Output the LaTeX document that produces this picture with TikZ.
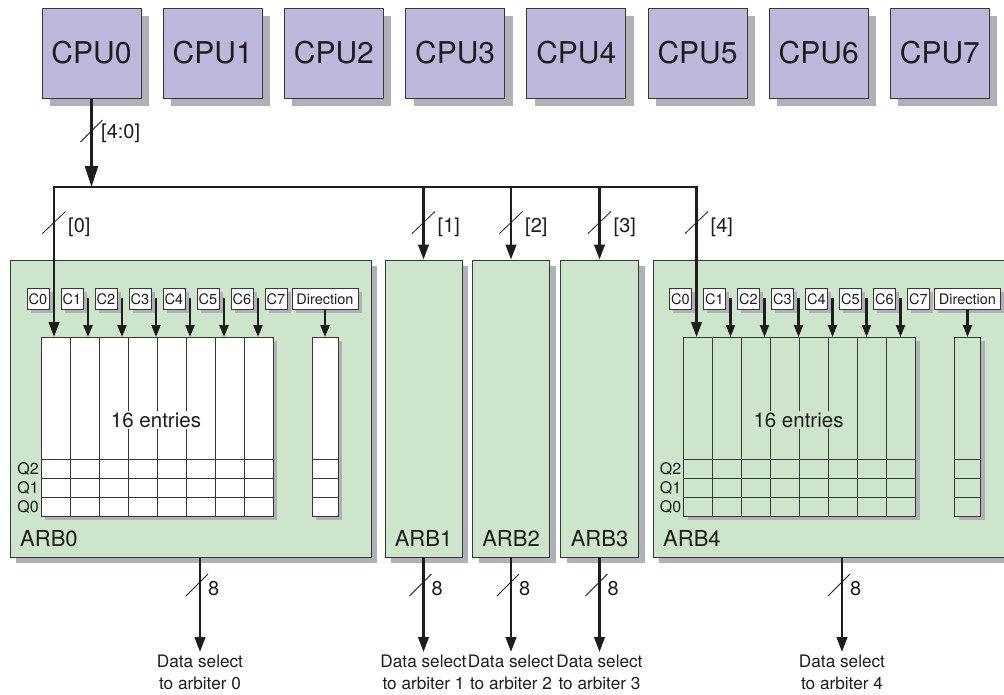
\documentclass[tikz,border=0pt]{standalone}
\usepackage{fontspec}
\setmainfont{TeX Gyre Heros}
\usetikzlibrary{arrows.meta,shadows}
\definecolor{cpufill}{RGB}{187,184,219}
\definecolor{arbfill}{RGB}{205,229,203}
\definecolor{shadowgray}{RGB}{176,177,184}
\definecolor{edge}{RGB}{55,55,55}
\definecolor{ink}{RGB}{30,28,28}

\newcommand\arbinside[2]{%
  \foreach \i in {0,...,7} {
    \node[cbox] (c#2\i) at ({38+34*\i},299) {C\i};
  }
  \node[cbox, minimum width=66pt] (dir#2) at (325,299) {Direction};
  \fill[shadowgray] (45,341) rectangle (277,520);
  \fill[shadowgray] (316,341) rectangle (342,520);
  \filldraw[fill=#1, draw=edge, line width=0.9pt] (41,337) rectangle (273,516);
  \filldraw[fill=#1, draw=edge, line width=0.9pt] (312,337) rectangle (338,516);
  \foreach \k in {1,...,7} {
    \draw[gridline] ({41+29*\k},337) -- ({41+29*\k},516);
  }
  \foreach \yy in {459,478,497} {
    \draw[gridline] (41,\yy) -- (273,\yy);
    \draw[gridline] (312,\yy) -- (338,\yy);
  }
  \node[entries, fill=#1] (ent#2) at (156,420) {16 entries};
  \node[qlabel] (q2#2) at (39,469) {Q2};
  \node[qlabel] (q1#2) at (39,488) {Q1};
  \node[qlabel] (q0#2) at (39,506.5) {Q0};
  \foreach \k in {1,...,6} {
    \coordinate (s#2\k) at ({54+34*\k},298);
    \coordinate (g#2\k) at ({54+34*\k},337);
    \draw[carrow] (s#2\k) -- (g#2\k);
  }
  \coordinate (dt#2) at (325,337);
  \draw[carrow] (dir#2.south) -- (dt#2);
}

\begin{document}
\begin{tikzpicture}[x=1pt,y=-1pt,
  cpubox/.style={draw=edge, line width=1pt, fill=cpufill, minimum width=99pt,
    minimum height=90pt, inner sep=0pt, text=ink, font=\fontsize{30}{32}\selectfont,
    drop shadow={shadow xshift=8pt, shadow yshift=-8pt, fill=shadowgray, opacity=1}},
  arbbox/.style={draw=edge, line width=0.9pt, fill=arbfill, inner sep=0pt,
    minimum height=297pt,
    drop shadow={shadow xshift=6pt, shadow yshift=-6pt, fill=shadowgray, opacity=1}},
  cbox/.style={draw=edge, line width=0.8pt, fill=white, inner sep=0pt,
    minimum width=22pt, minimum height=21pt, text=ink, font=\fontsize{14.5}{16}\selectfont,
    drop shadow={shadow xshift=3.5pt, shadow yshift=-3.5pt, fill=shadowgray, opacity=1}},
  gridline/.style={draw=edge, line width=0.8pt},
  entries/.style={inner sep=1.5pt, text=ink, font=\fontsize{20.5}{22}\selectfont},
  qlabel/.style={anchor=east, inner sep=0pt, text=ink, font=\fontsize{16}{17}\selectfont},
  arblabel/.style={inner sep=0pt, text=ink, font=\fontsize{22}{24}\selectfont},
  wire/.style={draw=ink, line width=2.6pt},
  bigarrow/.style={wire, -{Triangle[length=21pt,width=13pt]}},
  busarrow/.style={wire, -{Triangle[length=15pt,width=10.5pt]}},
  carrow/.style={draw=ink, line width=2.2pt, -{Triangle[length=12pt,width=9pt]}},
  slash/.style={draw=ink, line width=0.8pt},
  wlabel/.style={anchor=west, inner sep=0pt, text=ink, font=\fontsize{20}{22}\selectfont},
  outlabel/.style={anchor=north, align=center, inner sep=0pt, text=ink,
    font=\fontsize{17.2}{22}\selectfont},
]
\clip (0,0) rectangle (1004,694);
\useasboundingbox (0,0) rectangle (1004,694);

% CPUs
\foreach \i in {0,...,7} {
  \node[cpubox] (cpu\i) at ({91.5+121.2*\i},53) {CPU\i};
}

% ARB boxes
\node[arbbox, minimum width=361pt] (arb0) at (190.5,408.5) {};
\node[arbbox, minimum width=77pt] (arb1) at (423.5,408.5) {};
\node[arbbox, minimum width=77pt] (arb2) at (511,408.5) {};
\node[arbbox, minimum width=78pt] (arb3) at (599.5,408.5) {};
\node[arbbox, minimum width=361pt] (arb4) at (833.5,408.5) {};

\node[arblabel, anchor=base west] (lab0) at (20,546) {ARB0};
\node[arblabel, anchor=base] (lab1) at (423.5,546) {ARB1};
\node[arblabel, anchor=base] (lab2) at (511,546) {ARB2};
\node[arblabel, anchor=base] (lab3) at (599.5,546) {ARB3};
\node[arblabel, anchor=base west] (lab4) at (663,546) {ARB4};

% ARB internals
\arbinside{white}{a}
\begin{scope}[xshift=642.5pt]
\arbinside{arbfill}{b}
\end{scope}

% CPU0 to bus
\coordinate (join) at (91.5,187);
\draw[bigarrow] (cpu0.south) -- (join);
\draw[slash] (80.5,142) -- (102.5,120);
\node[wlabel] (l40) at (101,133) {[4:0]};

% bus
\coordinate (b0) at (54,187);
\coordinate (b1) at (423.5,187);
\coordinate (b2) at (511,187);
\coordinate (b3) at (599.5,187);
\coordinate (b4) at (696.5,187);
\coordinate (t0) at (54,337);
\coordinate (t4) at (696.5,337);
\draw[wire, line cap=rect] (b0) -- (b4);
\draw[busarrow] (b0) -- (t0);
\draw[busarrow] (b1) -- (arb1.north);
\draw[busarrow] (b2) -- (arb2.north);
\draw[busarrow] (b3) -- (arb3.north);
\draw[busarrow] (b4) -- (t4);

\foreach \xx/\lab in {54/{[0]},423.5/{[1]},511/{[2]},599.5/{[3]},696.5/{[4]}} {
  \draw[slash] (\xx-11.5,233.5) -- (\xx+11.5,211.5);
  \node[wlabel] at (\xx+14,227) {\lab};
}

% outputs
\coordinate (o0) at (200,557);
\coordinate (o4) at (842,557);
\coordinate (e0) at (200,652);
\coordinate (e1) at (423.5,652);
\coordinate (e2) at (511,652);
\coordinate (e3) at (599.5,652);
\coordinate (e4) at (842,652);
\draw[busarrow] (o0) -- (e0);
\draw[busarrow] (arb1.south) -- (e1);
\draw[busarrow] (arb2.south) -- (e2);
\draw[busarrow] (arb3.south) -- (e3);
\draw[busarrow] (o4) -- (e4);

\foreach \xx in {200,423.5,511,599.5,842} {
  \draw[slash] (\xx-14,596) -- (\xx+8,574);
  \node[wlabel] at (\xx+8,589) {8};
}

\node[outlabel] (d0) at (200,655) {Data select\\to arbiter 0};
\node[outlabel] (d1) at (423.5,655) {Data select\\to arbiter 1};
\node[outlabel] (d2) at (511,655) {Data select\\to arbiter 2};
\node[outlabel] (d3) at (599.5,655) {Data select\\to arbiter 3};
\node[outlabel] (d4) at (842,655) {Data select\\to arbiter 4};
\end{tikzpicture}
\end{document}
